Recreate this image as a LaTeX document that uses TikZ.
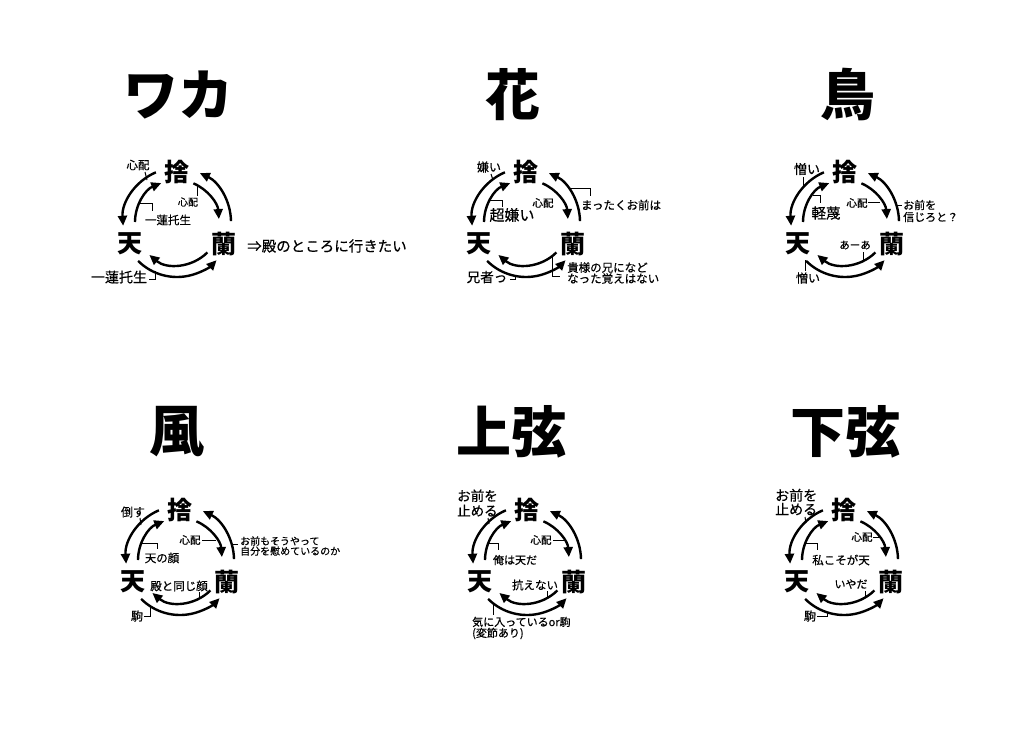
\documentclass[tikz,border=0pt]{standalone}
\usepackage{fontspec}
\setmainfont{Noto Sans CJK JP}
\newfontfamily\lf[FakeBold=0.5]{Noto Sans CJK JP}
\usetikzlibrary{arrows.meta}
\newcommand\fs[1]{\fontsize{#1}{#1}\selectfont}
\tikzset{
  big/.style={font=\fs{25}\bfseries, inner sep=0},
  ttl/.style={font=\fs{55}\bfseries, inner sep=0},
  lbl/.style={inner sep=0, align=left},
  arr/.style={line width=2.4pt, -{Triangle[length=10pt,width=9pt]}},
  lead/.style={line width=1pt},
}
\newcommand\trio[3]{%
  \begin{scope}[shift={(#2,-#3)}]
    \node[big] (#1s) at (0,50) {捨};
    \node[big] (#1t) at (-47,-22) {天};
    \node[big] (#1r) at (47,-22) {蘭};
    \coordinate (#1a) at (113:54);
    \coordinate (#1b) at (180:42);
    \coordinate (#1c) at (67:42);
    \coordinate (#1d) at (1:54);
    \coordinate (#1e) at (225:55);
    \coordinate (#1f) at (315:43);
    \draw[arr] (#1a) arc[start angle=113, end angle=184, radius=54];
    \draw[arr] (#1b) arc[start angle=180, end angle=112, radius=42];
    \draw[arr] (#1c) arc[start angle=67, end angle=4, radius=42];
    \draw[arr] (#1d) arc[start angle=1, end angle=65, radius=54];
    \draw[arr] (#1e) arc[start angle=225, end angle=316, radius=55];
    \draw[arr] (#1f) arc[start angle=315, end angle=230, radius=43];
  \end{scope}}
\begin{document}
\begin{tikzpicture}[x=1pt,y=1pt]
\fill[white] (0,0) rectangle (1024,-729);
\useasboundingbox (0,0) rectangle (1024,-729);

% ---------- Panel 1 ----------
\node[ttl] (Attl) at (178,-95) {ワカ};
\trio{A}{177}{222}
\node[lbl,font=\lf\fs{11.5}] (Al1) at (138,-165) {心配};
\draw[lead] (145,-172) -- (147,-180);
\node[lbl,font=\lf\fs{10}] (Al2) at (188,-202) {心配};
\draw[lead] (197,-185) -- (197,-196);
\node[lbl,font=\lf\fs{11.5}] (Al3) at (168,-220) {一蓮托生};
\draw[lead] (140,-203) -- (152,-203) -- (152,-211);
\node[lbl,font=\lf\fs{14}] (Al4) at (119,-277) {一蓮托生};
\draw[lead] (149,-279) -- (155,-279) -- (155,-271);
\node[lbl,font=\lf\fs{14.5}] (Al5) at (327,-246) {⇒殿のところに行きたい};

% ---------- Panel 2 ----------
\node[ttl] (Bttl) at (513,-95) {花};
\trio{B}{526}{222}
\node[lbl,font=\lf\fs{12}] (Bl1) at (489,-167) {嫌い};
\draw[lead] (491,-174) -- (493,-180);
\node[lbl,font=\lf\fs{15}] (Bl2) at (512,-215) {超嫌い};
\draw[lead] (490,-200) -- (502,-200) -- (502,-207);
\node[lbl,font=\lf\fs{10.5}] (Bl3) at (543,-203) {心配};
\node[lbl,font=\lf\fs{11.5}] (Bl4) at (621,-205) {まったくお前は};
\draw[lead] (568,-188) -- (590,-188) -- (590,-196);
\node[lbl,font=\lf\fontsize{11.5}{11}\selectfont,anchor=west] (Bl5) at (567,-273) {貴様の兄になど\\なった覚えはない};
\draw[lead] (552,-257) -- (552,-276) -- (560,-276);
\node[lbl,font=\lf\fs{13.5}] (Bl6) at (487,-277) {兄者っ};
\draw[lead] (510,-279) -- (515,-279) -- (515,-275);

% ---------- Panel 3 ----------
\node[ttl] (Cttl) at (848,-95) {鳥};
\trio{C}{845}{222}
\node[lbl,font=\lf\fs{13}] (Cl1) at (807,-169) {憎い};
\draw[lead] (803,-177) -- (803,-188);
\node[lbl,font=\lf\fs{14.5}] (Cl2) at (826,-213) {軽蔑};
\draw[lead] (813,-195) -- (820,-195) -- (820,-203);
\node[lbl,font=\lf\fs{10.5}] (Cl3) at (857,-203) {心配};
\draw[lead] (868,-202) -- (880,-202);
\node[lbl,font=\lf\fontsize{11}{12}\selectfont,anchor=west] (Cl4) at (903,-211) {お前を\\信じろと？};
\draw[lead] (896,-205) -- (902,-205);
\node[lbl,font=\lf\fs{10.5}] (Cl5) at (855,-245) {あーあ};
\draw[lead] (863,-252) -- (863,-260);
\node[lbl,font=\lf\fs{12}] (Cl6) at (808,-278) {憎い};
\draw[lead] (805,-260) -- (805,-271);

% ---------- Panel 4 ----------
\node[ttl] (Dttl) at (177,-432) {風};
\trio{D}{180}{560}
\node[lbl,font=\lf\fs{12}] (Dl1) at (133,-512) {倒す};
\draw[lead] (140,-518) -- (141,-525);
\node[lbl,font=\lf\fs{11.5}] (Dl2) at (162,-558) {天の顔};
\draw[lead] (142,-543) -- (157,-543) -- (157,-549);
\node[lbl,font=\lf\fs{10.5}] (Dl3) at (190,-540) {心配};
\draw[lead] (202,-540) -- (216,-540);
\node[lbl,font=\lf\fontsize{10}{10}\selectfont,anchor=west] (Dl4) at (240,-546) {お前もそうやって\\自分を慰めているのか};
\draw[lead] (231,-544) -- (238,-544);
\node[lbl,font=\lf\fs{11.5}] (Dl5) at (179,-586) {殿と同じ顔};
\draw[lead] (199,-592) -- (199,-598);
\node[lbl,font=\lf\fs{12}] (Dl6) at (137,-616) {駒};
\draw[lead] (144,-616) -- (150,-616) -- (150,-606);

% ---------- Panel 5 ----------
\node[ttl] (Ettl) at (511,-432) {上弦};
\trio{E}{527}{560}
\node[lbl,font=\lf\fontsize{13.5}{15}\selectfont,anchor=west] (El1) at (457,-503) {お前を\\止める};
\draw[lead] (488,-518) -- (489,-524);
\node[lbl,font=\lf\fs{11}] (El2) at (515,-560) {俺は天だ};
\draw[lead] (489,-543) -- (498,-543) -- (498,-550);
\node[lbl,font=\lf\fs{10.5}] (El3) at (541,-540) {心配};
\draw[lead] (553,-540) -- (564,-540);
\node[lbl,font=\lf\fs{11.5}] (El4) at (535,-585) {抗えない};
\draw[lead] (547,-591) -- (547,-597);
\node[lbl,font=\lf\fontsize{11}{11}\selectfont,anchor=west] (El5) at (472,-628) {気に入っているor駒\\(変節あり)};
\draw[lead] (493,-603) -- (493,-615);

% ---------- Panel 6 ----------
\node[ttl] (Fttl) at (845,-432) {下弦};
\trio{F}{844}{560}
\node[lbl,font=\lf\fontsize{14}{14}\selectfont,anchor=west] (Fl1) at (775,-502) {お前を\\止める};
\draw[lead] (805,-517) -- (806,-523);
\node[lbl,font=\lf\fs{11.5}] (Fl2) at (841,-560) {私こそが天};
\draw[lead] (806,-543) -- (817,-543) -- (817,-550);
\node[lbl,font=\lf\fs{10.5}] (Fl3) at (862,-537) {心配};
\draw[lead] (873,-537) -- (879,-537);
\node[lbl,font=\lf\fs{11}] (Fl4) at (851,-584) {いやだ};
\draw[lead] (865,-591) -- (865,-596);
\node[lbl,font=\lf\fs{12}] (Fl5) at (810,-616) {駒};
\draw[lead] (817,-616) -- (827,-616) -- (827,-612);
\end{tikzpicture}
\end{document}
